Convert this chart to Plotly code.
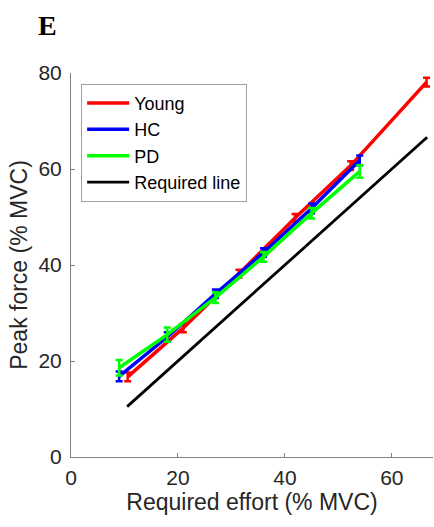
import plotly.graph_objects as go

# required effort levels (% MVC)
young_x = [10.6, 21.0, 31.4, 41.9, 52.3, 66.5]
young_y = [16.7, 26.9, 38.2, 49.8, 60.7, 78.1]
young_err = [0.9, 0.9, 0.8, 0.8, 0.9, 0.9]

hc_x = [9, 18, 27, 36, 45, 54]
hc_y = [16.8, 25.0, 34.0, 42.6, 51.8, 61.8]
hc_err = [1.0, 1.0, 0.9, 0.9, 1.0, 1.0]

pd_x = [9, 18, 27, 36, 45, 54]
pd_y = [18.6, 25.5, 33.2, 41.7, 50.8, 59.5]
pd_err = [1.6, 1.5, 1.1, 1.0, 1.1, 1.3]

req_x = [10.5, 66.6]
req_y = [10.5, 66.6]

font = "Liberation Sans, Arial, sans-serif"
axcol = "#262626"

fig = go.Figure()

def add_group(x, y, err, name, col):
    fig.add_trace(go.Scatter(
        x=x, y=y, name=name, mode="lines",
        line=dict(color=col, width=3.5),
        error_y=dict(type="data", array=err, color=col, thickness=2.5, width=3.5),
    ))

add_group(young_x, young_y, young_err, "Young", "#ff0000")
add_group(hc_x, hc_y, hc_err, "HC", "#0000ff")
add_group(pd_x, pd_y, pd_err, "PD", "#00ff00")

fig.add_trace(go.Scatter(x=req_x, y=req_y, name="Required line", mode="lines",
                         line=dict(color="black", width=2.8)))

fig.add_annotation(text="<b>E</b>", xref="paper", yref="paper", x=-0.066, y=1.125,
                   xanchor="center", yanchor="middle", showarrow=False,
                   font=dict(family="Liberation Serif, serif", size=28, color="black"))

fig.update_layout(
    width=434, height=527,
    margin=dict(l=71, r=1, t=73, b=70),
    paper_bgcolor="white", plot_bgcolor="white",
    font=dict(family=font, size=21, color=axcol),
    showlegend=True,
    legend=dict(x=0.028, y=0.972, xanchor="left", yanchor="top",
                bordercolor="#a0a0a0", borderwidth=1, bgcolor="white",
                font=dict(size=18, color="black"), tracegroupgap=0, itemwidth=42),
)
fig.update_xaxes(range=[0, 67.7], tickvals=[0, 20, 40, 60], ticks="inside", ticklen=4,
                 showgrid=False, zeroline=False, showline=True, linecolor="#808080",
                 tickcolor="#808080", ticklabelstandoff=2,
                 title=dict(text="Required effort (% MVC)",
                            font=dict(size=23, color=axcol), standoff=2))
fig.update_yaxes(range=[0, 80], tickvals=[0, 20, 40, 60, 80], ticks="inside", ticklen=4,
                 showgrid=False, zeroline=False, showline=True, linecolor="#808080",
                 tickcolor="#808080", ticklabelstandoff=4,
                 title=dict(text="Peak force (% MVC)",
                            font=dict(size=23, color=axcol), standoff=4))

# drop the default 8px page margin so the figure sits at the window origin
fig.write_html("out.html", config={"displayModeBar": False},
               post_script="document.body.style.margin='0';")
